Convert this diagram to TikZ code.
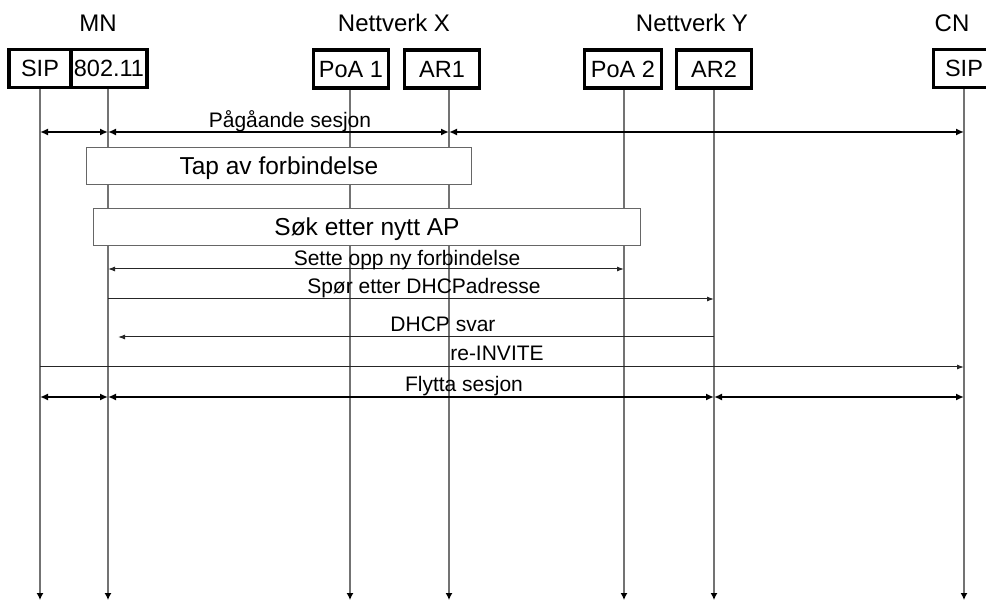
\documentclass[tikz,border=0pt]{standalone}
\usepackage{fontspec}
\setmainfont{Liberation Sans}
\usetikzlibrary{arrows.meta}
\begin{document}
\begin{tikzpicture}[x=1pt,y=-1pt,
  hdr/.style={anchor=base, inner sep=0pt, font=\fontsize{24}{28}\selectfont},
  ent/.style={draw=black, line width=3.3pt, minimum height=38pt, inner sep=0pt, text height=17pt, text depth=0pt, font=\fontsize{23.5}{28}\selectfont},
  life/.style={draw=black!55, line width=1.3pt, -{Latex[length=7pt,width=7pt,color=black]}},
  evt/.style={draw=black!60, fill=white, line width=1pt, minimum height=37pt, inner sep=0pt, text height=17pt, text depth=0pt, font=\fontsize{24.5}{29}\selectfont},
  msg/.style={draw=black!85, line width=1pt},
  msgr/.style={msg, -{Latex[length=7pt,width=5pt]}},
  msgb/.style={msg, {Latex[length=7pt,width=5pt]}-{Latex[length=7pt,width=5pt]}},
  big/.style={draw=black, line width=2pt, {Latex[length=8pt,width=7pt]}-{Latex[length=8pt,width=7pt]}},
  lbl/.style={anchor=base, inner sep=0pt, font=\fontsize{21}{25}\selectfont},
]
\useasboundingbox (0,0) rectangle (986,601);

% lifeline x positions and row y positions
\coordinate (L1) at (40,0);
\coordinate (L2) at (108,0);
\coordinate (L3) at (350,0);
\coordinate (L4) at (449,0);
\coordinate (L5) at (624,0);
\coordinate (L6) at (714,0);
\coordinate (L7) at (964,0);
\coordinate (top) at (0,89);
\coordinate (bot) at (0,600);
\coordinate (r1) at (0,132);
\coordinate (r2) at (0,269);
\coordinate (r3) at (0,299);
\coordinate (r4) at (0,337);
\coordinate (r5) at (0,367);
\coordinate (r6) at (0,397);
\coordinate (dhcpend) at (118,337);

% headers
\node[hdr] (hMN) at (98,32) {MN};
\node[hdr] (hX) at (394,32) {Nettverk X};
\node[hdr] (hY) at (692,32) {Nettverk Y};
\node[hdr] (hCN) at (952,32) {CN};

% lifelines
\foreach \L in {L1,L2,L3,L4,L5,L6,L7}
  \draw[life] (\L |- top) -- (\L |- bot);

% entity boxes
\node[ent, minimum width=62pt] (sipA) at (40,68.5) {SIP};
\node[ent, minimum width=76pt] (wifi) at (109,68.5) {802.11};
\node[ent, minimum width=75pt] (poa1) at (351,69) {PoA 1};
\node[ent, minimum width=75pt] (ar1) at (442,69) {AR1};
\node[ent, minimum width=77pt] (poa2) at (623,69) {PoA 2};
\node[ent, minimum width=75pt] (ar2) at (714,69) {AR2};
\node[ent, minimum width=61pt] (sipB) at (964,68.5) {SIP};

% ongoing session
\draw[big] (L1 |- r1) -- (L2 |- r1);
\draw[big] (L2 |- r1) -- (L4 |- r1);
\draw[big] (L4 |- r1) -- (L7 |- r1);
\node[lbl] (m1) at (290,128) {Pågåande sesjon};

% event boxes
\node[evt, minimum width=385pt] (tap) at (279,166) {Tap av forbindelse};
\node[evt, minimum width=547pt] (sok) at (367,227) {Søk etter nytt AP};

% messages
\draw[msgb] (L2 |- r2) -- (L5 |- r2);
\node[lbl] (m2) at (407,266) {Sette opp ny forbindelse};

\draw[msgr] (L2 |- r3) -- (L6 |- r3);
\node[lbl] (m3) at (424,294) {Spør etter DHCPadresse};

\draw[msgr] (L6 |- r4) -- (dhcpend);
\node[lbl] (m4) at (443,332) {DHCP svar};

\draw[msgr] (L1 |- r5) -- (L7 |- r5);
\node[lbl] (m5) at (497,361) {re-INVITE};

\draw[big] (L1 |- r6) -- (L2 |- r6);
\draw[big] (L2 |- r6) -- (L6 |- r6);
\draw[big] (L6 |- r6) -- (L7 |- r6);
\node[lbl] (m6) at (464,392) {Flytta sesjon};
\end{tikzpicture}
\end{document}
